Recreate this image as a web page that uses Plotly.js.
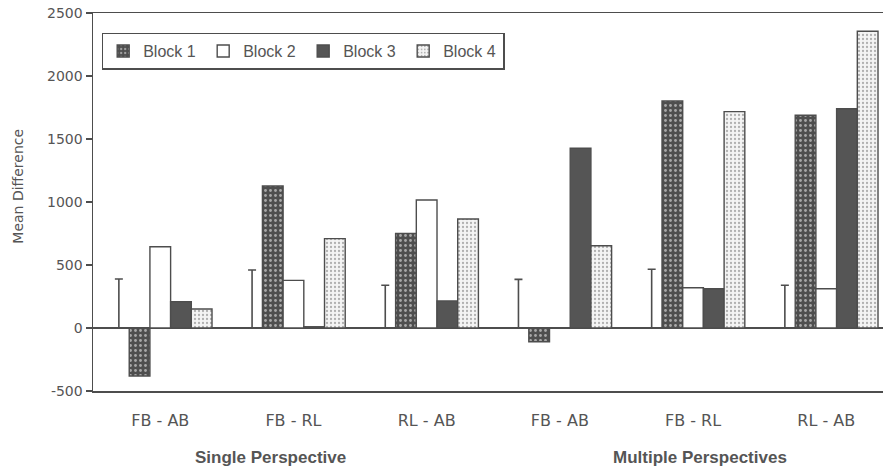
<!DOCTYPE html>
<html>
<head>
<meta charset="utf-8">
<script src="https://cdn.plot.ly/plotly-3.0.1.min.js"></script>
<style>html,body{margin:0;padding:0;background:#fff;}#chart{width:883px;height:471px;}</style>
</head>
<body>
<div id="chart"></div>
<script>
var categories = ["FB - AB", "FB - RL", "RL - AB", "FB - AB", "FB - RL", "RL - AB"];
var groupTitles = ["Single Perspective", "Multiple Perspectives"];
var seriesNames = ["Block 1", "Block 2", "Block 3", "Block 4"];
var whisker = [389, 460, 339, 386, 466, 339];
var block1 = [-381, 1127, 751, -109, 1802, 1688];
var block2 = [645, 378, 1016, 0, 320, 312];
var block3 = [209, 10, 214, 1426, 312, 1740];
var block4 = [151, 709, 865, 653, 1717, 2355];
var yTicks = [-500, 0, 500, 1000, 1500, 2000, 2500];
var yTickText = ["-500", "0", "500", "1000", "1500", "2000", "2500"];

var xs = categories.map(function (c, i) { return i; });
var ink = '#4d4d4d';
var zeros = whisker.map(function () { return 0; });

var traces = [
  {
    type: 'bar', x: xs, y: zeros, showlegend: false, hoverinfo: 'skip',
    marker: {color: 'rgba(0,0,0,0)', line: {width: 0}},
    error_y: {type: 'data', symmetric: false, array: whisker, arrayminus: zeros,
              color: ink, thickness: 1.6, width: 4}
  },
  {
    type: 'bar', name: seriesNames[0], x: xs, y: block1,
    marker: {color: '#555555', line: {color: ink, width: 1.4},
             pattern: {shape: '.', bgcolor: '#4e4e4e', fgcolor: '#a8a8a8', size: 5, solidity: 0.25, fillmode: 'replace'}}
  },
  {
    type: 'bar', name: seriesNames[1], x: xs, y: block2,
    marker: {color: '#ffffff', line: {color: ink, width: 1.4}}
  },
  {
    type: 'bar', name: seriesNames[2], x: xs, y: block3,
    marker: {color: '#555555', line: {color: ink, width: 1.4}}
  },
  {
    type: 'bar', name: seriesNames[3], x: xs, y: block4,
    marker: {color: '#eeeeee', line: {color: ink, width: 1.4},
             pattern: {shape: '.', bgcolor: '#f4f4f4', fgcolor: '#b0b0b0', size: 4, solidity: 0.25, fillmode: 'replace'}}
  }
];

var layout = {
  width: 883, height: 471,
  margin: {l: 93, r: 0, t: 13, b: 80},
  paper_bgcolor: '#ffffff', plot_bgcolor: '#ffffff',
  barmode: 'group', bargap: 0.223, bargroupgap: 0,
  font: {family: 'Arial, Liberation Sans, sans-serif', color: '#555555'},
  showlegend: true,
  legend: {
    orientation: 'h', x: 0.011, y: 0.948, xanchor: 'left', yanchor: 'top',
    bordercolor: ink, borderwidth: 1.5, bgcolor: '#ffffff',
    font: {size: 16, color: '#555555', family: 'Arial, Liberation Sans, sans-serif'},
    itemwidth: 30, tracegroupgap: 0, entrywidth: 55, entrywidthmode: 'pixels'
  },
  xaxis: {
    range: [-0.505, 5.426], tickvals: xs, ticktext: categories,
    showline: true, mirror: true, linecolor: ink, linewidth: 1.5,
    ticks: '', showgrid: false, zeroline: false,
    tickfont: {size: 16, color: '#555555', family: 'DejaVu Sans, sans-serif'},
    ticklabelstandoff: 14
  },
  yaxis: {
    range: [-500, 2500], tickvals: yTicks, ticktext: yTickText,
    showline: true, linecolor: ink, linewidth: 1.5,
    ticks: 'outside', ticklen: 6, tickcolor: ink, tickwidth: 1.5,
    showgrid: false, zeroline: true, zerolinecolor: ink, zerolinewidth: 1.5,
    tickfont: {size: 14, color: '#555555', family: 'DejaVu Sans, sans-serif'}
  },
  annotations: [
    {text: 'Mean Difference', xref: 'paper', yref: 'paper', x: -0.095, y: 0.543,
     xanchor: 'center', yanchor: 'middle', textangle: -90, showarrow: false,
     font: {size: 14, color: '#555555', family: 'DejaVu Sans, sans-serif'}},
    {text: '<b>' + groupTitles[0] + '</b>', xref: 'x', yref: 'paper', x: 0.83, y: -0.175,
     xanchor: 'center', yanchor: 'middle', showarrow: false,
     font: {size: 17, color: '#555555', family: 'Arial, Liberation Sans, sans-serif'}},
    {text: '<b>' + groupTitles[1] + '</b>', xref: 'x', yref: 'paper', x: 4.05, y: -0.175,
     xanchor: 'center', yanchor: 'middle', showarrow: false,
     font: {size: 17, color: '#555555', family: 'Arial, Liberation Sans, sans-serif'}}
  ]
};

Plotly.newPlot('chart', traces, layout, {displayModeBar: false, staticPlot: true});
</script>
</body>
</html>
